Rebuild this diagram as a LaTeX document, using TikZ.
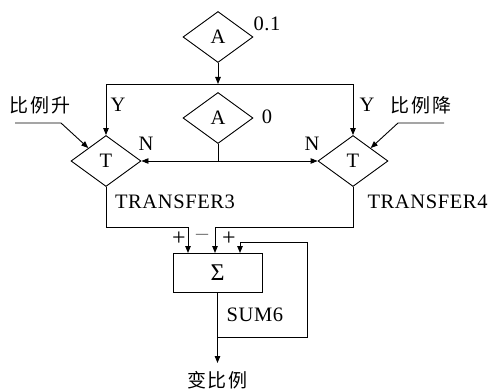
\documentclass[tikz,border=0pt]{standalone}
\usepackage{fontspec}
\setmainfont{Liberation Serif}[LetterSpace=3]
\newfontfamily\cjk{Noto Sans CJK SC}
\usepackage{tikz}
\usetikzlibrary{arrows.meta,shapes.geometric}

\begin{document}
\begin{tikzpicture}[>={Stealth[length=7pt,width=5.5pt,inset=0pt]},x=1pt,y=1pt,line width=0.9pt,
        font=\fontsize{20.5}{22}\selectfont,
        dia/.style={draw,diamond,inner sep=0pt,minimum width=70pt,minimum height=51pt},
        sumbox/.style={draw,rectangle,inner sep=0pt,minimum width=89pt,minimum height=39pt,
            font=\fontsize{24}{26}\selectfont},
        lbl/.style={inner sep=0pt},
        cjklbl/.style={inner sep=0pt,font=\fontsize{19}{21}\cjk},
        sign/.style={inner sep=0pt,font=\fontsize{24}{26}\selectfont}]
        \useasboundingbox (0,0) rectangle (490,389);
        % blocks
        \node [dia] (A1) at (218,352) {A};
        \node [dia] (A2) at (218,271) {A};
        \node [dia] (T3) at (106,228) {T};
        \node [dia] (T4) at (353,228) {T};
        \node [sumbox] (sum) at (217.5,116.5) {Σ};
        % labels
        \node [lbl] (v1) at (267,365) {0.1};
        \node [lbl] (v0) at (267,272) {0};
        \node [lbl] (y3) at (118,284) {Y};
        \node [lbl] (y4) at (367,284) {Y};
        \node [lbl] (n3) at (146,245) {N};
        \node [lbl] (n4) at (312,245) {N};
        \node [cjklbl] (up) at (40,284) {比\hspace{2pt}例\hspace{2pt}升};
        \node [cjklbl] (down) at (421,284) {比\hspace{2pt}例\hspace{2pt}降};
        \node [lbl] (tr3) at (175,187) {TRANSFER3};
        \node [lbl,anchor=east] (tr4) at (488,187) {TRANSFER4};
        \node [lbl] (sum6) at (255,74) {SUM6};
        \node [cjklbl] (out) at (217.5,9) {变\hspace{2pt}比\hspace{2pt}例};
        \node [sign] (pa) at (179,150) {+};
        \node [sign,gray] (pb) at (202,152) {–};
        \node [sign] (pc) at (229,150) {+};
        % coordinates
        \coordinate (split) at (218,305);
        \coordinate (fork) at (218,228);
        \coordinate (inL) at (15,266);
        \coordinate (bendL) at (61,266);
        \coordinate (inR) at (444,266);
        \coordinate (bendR) at (398,266);
        \coordinate (s1) at (188,136);
        \coordinate (s2) at (215,136);
        \coordinate (s3) at (240,136);
        \coordinate (fb) at (217.5,52);
        \coordinate (fbR) at (307,52);
        \coordinate (end) at (217.5,26);
        % connectors
        \draw [->] (A1.south) -- (split);
        \draw [->] (split) -| (T3.north);
        \draw [->] (split) -| (T4.north);
        \draw (A2.south) -- (fork);
        \draw [->] (fork) -- (T3.east);
        \draw [->] (fork) -- (T4.west);
        \draw [->] (inL) -- (bendL) -- (T3.north west);
        \draw [->] (inR) -- (bendR) -- (T4.north east);
        \draw [->] (T3.south) |- (s1 |- 0,162) -- (s1);
        \draw [->] (T4.south) |- (s2 |- 0,162) -- (s2);
        \draw [->] (fb) -- (fbR) |- (s3 |- 0,147) -- (s3);
        \draw [->] (sum.south) -- (end);
    \end{tikzpicture}
\end{document}
